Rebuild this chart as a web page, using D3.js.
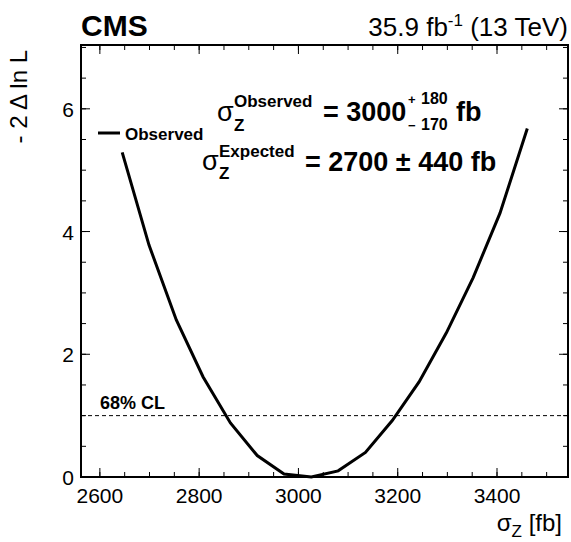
<!DOCTYPE html>
<html>
<head>
<meta charset="utf-8">
<script src="https://cdn.jsdelivr.net/npm/d3@7"></script>
<style>
  body { margin: 0; background: #fff; }
  text { font-family: "Liberation Sans", Arial, Helvetica, sans-serif; fill: #000; }
</style>
</head>
<body>
<script>
// scan points of the likelihood curve
var sigmaZ = [2645, 2699, 2754, 2808, 2863, 2917, 2971, 3026, 3080, 3135, 3189, 3243, 3298, 3352, 3406, 3461];
var deltaNLL = [5.29, 3.78, 2.56, 1.63, 0.88, 0.35, 0.05, 0.0, 0.10, 0.40, 0.92, 1.55, 2.35, 3.25, 4.30, 5.68];
var xTicks = [2600, 2800, 3000, 3200, 3400];
var yTicks = [0, 2, 4, 6];
var clLevel = 1;

var svgWidth = 571, svgHeight = 542;
var margin = { top: 45, right: 3, bottom: 65, left: 81 };
var chartWidth = svgWidth - margin.left - margin.right;
var chartHeight = svgHeight - margin.top - margin.bottom;

var svg = d3.select("body").append("svg")
  .attr("width", svgWidth)
  .attr("height", svgHeight);

var g = svg.append("g")
  .attr("transform", `translate(${margin.left}, ${margin.top})`);

var x = d3.scaleLinear().domain([2562, 3543]).range([0, chartWidth]);
var y = d3.scaleLinear().domain([0, 7.04]).range([chartHeight, 0]);

// ticks, major + minor, mirrored on top / right like ROOT
var xMinor = d3.range(2600, 3543, 50);
var yMinor = d3.range(0, 7.04, 0.5);

function tickSet(vals, len, side) {
  vals.forEach(function (v) {
    if (side == "x") {
      g.append("line").attr("x1", x(v)).attr("x2", x(v)).attr("y1", chartHeight).attr("y2", chartHeight - len)
        .attr("stroke", "#000").attr("stroke-width", 1);
      g.append("line").attr("x1", x(v)).attr("x2", x(v)).attr("y1", 0).attr("y2", len)
        .attr("stroke", "#000").attr("stroke-width", 1);
    } else {
      g.append("line").attr("x1", 0).attr("x2", len).attr("y1", y(v)).attr("y2", y(v))
        .attr("stroke", "#000").attr("stroke-width", 1);
      g.append("line").attr("x1", chartWidth).attr("x2", chartWidth - len).attr("y1", y(v)).attr("y2", y(v))
        .attr("stroke", "#000").attr("stroke-width", 1);
    }
  });
}
tickSet(xMinor, 5, "x");
tickSet(xTicks, 9, "x");
tickSet(yMinor, 5, "y");
tickSet(yTicks, 9, "y");

// tick labels
g.selectAll(".xlab").data(xTicks).enter().append("text")
  .attr("x", d => x(d)).attr("y", chartHeight + 26)
  .attr("text-anchor", "middle").attr("font-size", "21px")
  .text(d => d);

g.selectAll(".ylab").data(yTicks).enter().append("text")
  .attr("x", -7).attr("y", d => y(d) + 8)
  .attr("text-anchor", "end").attr("font-size", "21px")
  .text(d => d);

// 68% CL line
g.append("line")
  .attr("x1", 0).attr("x2", chartWidth)
  .attr("y1", y(clLevel)).attr("y2", y(clLevel))
  .attr("stroke", "#000").attr("stroke-width", 1)
  .attr("stroke-dasharray", "4,3");

g.append("text")
  .attr("x", 19).attr("y", y(clLevel) - 7)
  .attr("font-size", "18px").attr("font-weight", "bold")
  .text("68% CL");

// curve
var line = d3.line().x(d => x(d[0])).y(d => y(d[1]));
g.append("path")
  .datum(sigmaZ.map((s, i) => [s, deltaNLL[i]]))
  .attr("d", line)
  .attr("fill", "none").attr("stroke", "#000").attr("stroke-width", 3);

// frame
g.append("rect")
  .attr("width", chartWidth).attr("height", chartHeight)
  .attr("fill", "none").attr("stroke", "#000").attr("stroke-width", 2);

// legend
g.append("line").attr("x1", 17).attr("x2", 39).attr("y1", 88).attr("y2", 88)
  .attr("stroke", "#000").attr("stroke-width", 3);
g.append("text").attr("x", 44).attr("y", 95)
  .attr("font-size", "17px").attr("font-weight", "bold")
  .text("Observed");

// results
var res = svg.append("g").attr("font-weight", "bold");
function put(tx, ty, size, str, normal) {
  var t = res.append("text").attr("x", tx).attr("y", ty).attr("font-size", size + "px").text(str);
  if (normal) t.attr("font-weight", "normal");
  return t;
}
put(217, 121, 27, "σ", true);
put(234, 107, 17, "Observed");
put(234, 131, 17, "Z");
put(323, 121, 27, "= 3000");
put(408, 104, 13, "+");
put(421, 104, 16, "180");
put(408, 130, 13, "−");
put(421, 130, 16, "170");
put(456, 121, 27, "fb");

put(202, 170, 27, "σ", true);
put(219, 157, 17, "Expected");
put(219, 179, 17, "Z");
put(305, 171, 27, "= 2700 ± 440 fb");

// header
svg.append("text").attr("x", 81).attr("y", 36)
  .attr("font-size", "30px").attr("font-weight", "bold").text("CMS");
var lumi = svg.append("text").attr("x", 568).attr("y", 36)
  .attr("text-anchor", "end").attr("font-size", "26px");
lumi.append("tspan").text("35.9 fb");
lumi.append("tspan").attr("dy", -10).attr("font-size", "17px").text("-1");
lumi.append("tspan").attr("dy", 10).text(" (13 TeV)");

// axis titles
var xt = svg.append("text").attr("x", 562).attr("y", 531)
  .attr("text-anchor", "end").attr("font-size", "24px");
xt.append("tspan").text("σ");
xt.append("tspan").attr("dy", 6).attr("font-size", "17px").text("Z");
xt.append("tspan").attr("dy", -6).text(" [fb]");

svg.append("text")
  .attr("transform", "translate(27, 50) rotate(-90)")
  .attr("text-anchor", "end").attr("font-size", "24px")
  .text("- 2 Δ ln L");
</script>
</body>
</html>
